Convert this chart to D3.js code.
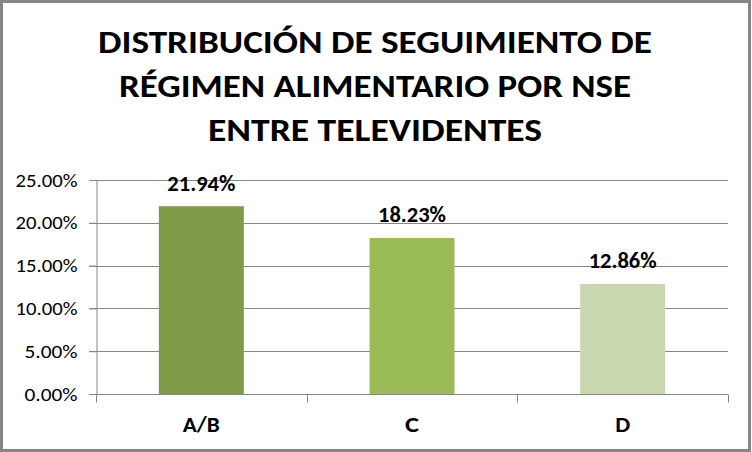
<!DOCTYPE html>
<html><head><meta charset="utf-8">
<script src="https://cdn.jsdelivr.net/npm/d3@7"></script>
<style>html,body{margin:0;padding:0;background:#fff}svg{display:block}</style>
</head><body>
<svg id="c" width="752" height="452"></svg>
<script>
const categories = ["A/B", "C", "D"];
const values = [21.94, 18.23, 12.86];
const barColors = ["#7f9b48", "#9bbb59", "#c9d7b0"];
const yTicks = [0, 5, 10, 15, 20, 25];
const titleLines = ["DISTRIBUCIÓN DE SEGUIMIENTO DE", "RÉGIMEN ALIMENTARIO POR NSE", "ENTRE TELEVIDENTES"];

const svg = d3.select("#c");
const W = 752, H = 452;
const font = "Carlito, Calibri, 'Open Sans', 'Liberation Sans', sans-serif";
const m = {left: 96, right: 24, top: 180, bottom: 58};

svg.append("rect").attr("x", 1.5).attr("y", 1.5).attr("width", W - 4).attr("height", H - 3)
  .attr("fill", "#fff").attr("stroke", "#868686").attr("stroke-width", 3);

// title
const titleBase = [53, 97, 141];
const titleWidths = [554, 512, 334];
titleLines.forEach((t, i) => {
  svg.append("text").attr("x", 375).attr("y", titleBase[i])
    .attr("text-anchor", "middle").attr("font-family", font).attr("font-weight", "bold")
    .attr("font-size", 32).attr("fill", "#000")
    .attr("textLength", titleWidths[i]).attr("lengthAdjust", "spacingAndGlyphs")
    .text(t);
});

const x = d3.scaleBand().domain(categories).range([m.left, W - m.right]).paddingInner(0).paddingOuter(0);
const y = d3.scaleLinear().domain([0, 25]).range([H - m.bottom, m.top]);

// gridlines
svg.append("g").selectAll("line").data(yTicks.slice(1)).join("line")
  .attr("x1", m.left - 7).attr("x2", W - m.right)
  .attr("y1", d => Math.round(y(d)) + 0.5).attr("y2", d => Math.round(y(d)) + 0.5)
  .attr("stroke", "#868686").attr("stroke-width", 1);

// y axis
const yAxis = svg.append("g").attr("transform", `translate(${m.left + 0.5},0)`)
  .call(d3.axisLeft(y).tickValues(yTicks).tickSize(7).tickFormat(d => d.toFixed(2) + "%"));
yAxis.select(".domain").attr("stroke", "#868686");
yAxis.selectAll(".tick line").attr("stroke", "#868686");
yAxis.selectAll(".tick text").attr("font-family", font).attr("font-size", 18).attr("fill", "#000")
  .attr("x", -19).attr("dy", "0.34em")
  .each(function(){ const t = d3.select(this); const s = t.text(); t.attr("textLength", s.length===6?62:53).attr("lengthAdjust","spacingAndGlyphs"); });

// bars
const bw = 85;
svg.append("g").selectAll("rect").data(values).join("rect")
  .attr("x", (d, i) => x(categories[i]) + x.bandwidth() / 2 - bw / 2)
  .attr("width", bw)
  .attr("y", d => y(d)).attr("height", d => y(0) - y(d))
  .attr("fill", (d, i) => barColors[i]);

// x axis
const baseY = Math.round(y(0)) + 0.5;
svg.append("line").attr("x1", m.left).attr("x2", W - m.right).attr("y1", baseY).attr("y2", baseY)
  .attr("stroke", "#868686");
const bounds = categories.map(c => x(c)).concat([x(categories[categories.length - 1]) + x.bandwidth()]);
svg.append("g").selectAll("line").data(bounds).join("line")
  .attr("x1", d => Math.round(d) + 0.5).attr("x2", d => Math.round(d) + 0.5)
  .attr("y1", baseY).attr("y2", baseY + 8).attr("stroke", "#868686");
const xlW = {"A/B": 37, "C": 14, "D": 15};
svg.append("g").selectAll("text").data(categories).join("text")
  .attr("x", d => x(d) + x.bandwidth() / 2).attr("y", 432)
  .attr("text-anchor", "middle").attr("font-family", font).attr("font-weight", "bold")
  .attr("font-size", 22).attr("fill", "#000")
  .attr("textLength", d => xlW[d]).attr("lengthAdjust", "spacingAndGlyphs")
  .text(d => d);

// data labels
svg.append("g").selectAll("text").data(values).join("text")
  .attr("x", (d, i) => x(categories[i]) + x.bandwidth() / 2)
  .attr("y", d => y(d) - 15.5)
  .attr("text-anchor", "middle").attr("font-family", font).attr("font-weight", "bold")
  .attr("font-size", 22).attr("fill", "#000")
  .attr("textLength", 68).attr("lengthAdjust", "spacingAndGlyphs")
  .text(d => d.toFixed(2) + "%");
</script>
</body></html>
